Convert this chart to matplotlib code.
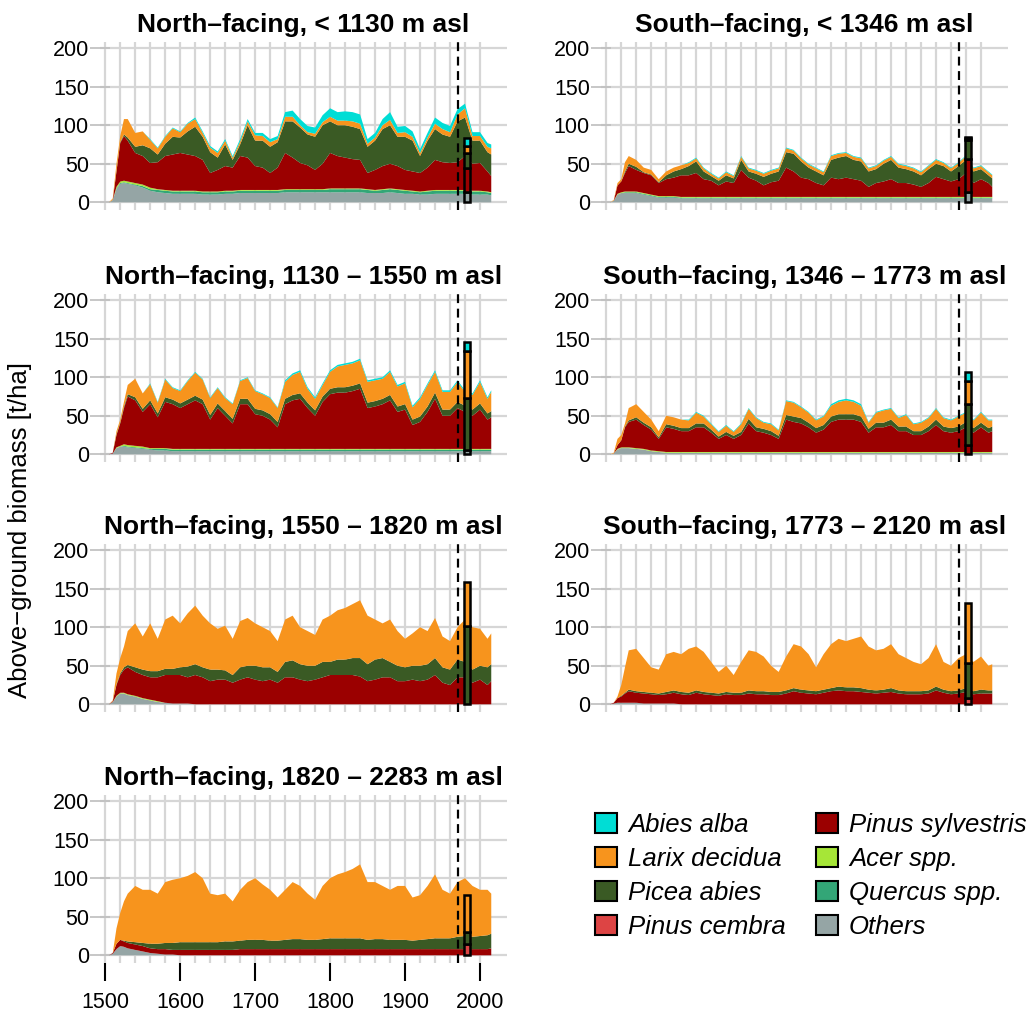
import numpy as np
import matplotlib
matplotlib.use('Agg')
from matplotlib import pyplot as plt
from matplotlib.patches import Patch

plt.rcParams['font.family'] = ['Liberation Sans', 'DejaVu Sans']

YEARS = [1505, 1510, 1515, 1520, 1525, 1530,
         1540, 1550, 1560, 1570, 1580, 1590, 1600, 1610, 1620, 1630,
         1640, 1650, 1660, 1670, 1680, 1690, 1700, 1710, 1720, 1730,
         1740, 1750, 1760, 1770, 1780, 1790, 1800, 1810, 1820, 1830,
         1840, 1850, 1860, 1870, 1880, 1890, 1900, 1910, 1920, 1930,
         1940, 1950, 1960, 1970, 1980, 1990, 2000, 2010,
         2015]

SPECIES = ['Abies alba', 'Larix decidua', 'Picea abies', 'Pinus cembra',
           'Pinus sylvestris', 'Acer spp.', 'Quercus spp.', 'Others']
COLORS = {'Abies alba': '#00DDD5', 'Larix decidua': '#F7941D',
          'Picea abies': '#3A5A24', 'Pinus cembra': '#DD4444',
          'Pinus sylvestris': '#9B0000', 'Acer spp.': '#A6E637',
          'Quercus spp.': '#33A677', 'Others': '#95A5A5'}

SURVEY_YEAR = 1970
OBS_YEAR = 1983

# ---- North-facing, < 1130 m asl
N1_OTHERS = [0, 3, 17, 24, 25, 24,
             22, 19, 15, 13, 12, 11, 11, 11, 11, 10,
             10, 10, 11, 11, 12, 12, 12, 12, 12, 12,
             13, 13, 13, 13, 13, 13, 13, 13, 13, 13,
             13, 12, 12, 12, 13, 12, 11, 11, 10, 10,
             11, 11, 11, 11, 11, 10, 10, 10,
             9]
N1_QUERCUS = [0, 0, 1, 1, 1, 1,
              1, 2, 2, 3, 3, 3, 3, 3, 3, 3,
              3, 3, 3, 3, 3, 3, 3, 3, 3, 3,
              3, 3, 3, 3, 3, 3, 4, 4, 4, 4,
              4, 4, 3, 4, 4, 4, 4, 3, 3, 4,
              4, 4, 4, 4, 4, 4, 4, 3,
              3]
N1_ACER = [0, 0, 2, 2, 2, 2,
           2, 2, 2, 1, 1, 1, 1, 1, 1, 1,
           1, 1, 1, 1, 1, 1, 1, 1, 1, 1,
           1, 1, 1, 1, 1, 1, 1, 1, 1, 1,
           1, 1, 1, 1, 1, 1, 1, 1, 1, 1,
           1, 1, 1, 1, 1, 1, 1, 1,
           1]
N1_SYLV = [0, 0, 20, 50, 58, 53,
           39, 37, 32, 35, 44, 47, 49, 47, 45, 41,
           24, 28, 32, 30, 44, 42, 31, 29, 22, 29,
           47, 41, 34, 31, 25, 33, 46, 42, 40, 38,
           37, 21, 26, 30, 32, 30, 26, 25, 24, 30,
           39, 36, 35, 36, 44, 35, 36, 26,
           21]
N1_PICEA = [0, 0, 1, 1, 2, 4,
            8, 14, 19, 10, 16, 23, 20, 30, 38, 30,
            27, 16, 28, 10, 15, 42, 33, 35, 34, 33,
            41, 47, 46, 40, 43, 50, 41, 40, 42, 42,
            40, 34, 38, 48, 50, 38, 43, 40, 22, 35,
            40, 36, 34, 53, 50, 30, 29, 25,
            28]
N1_LARIX = [0, 2, 9, 8, 20, 24,
            18, 18, 11, 8, 9, 11, 7, 10, 10, 5,
            6, 6, 5, 3, 4, 5, 7, 6, 6, 4,
            6, 6, 3, 3, 4, 4, 6, 6, 6, 7,
            7, 4, 4, 5, 7, 5, 6, 5, 4, 4,
            7, 7, 6, 9, 12, 6, 6, 7,
            8]
N1_ABIES = [0, 0, 0, 0, 0, 0,
            0, 0, 1, 1, 1, 1, 1, 1, 2, 2,
            2, 2, 2, 2, 3, 3, 3, 4, 4, 4,
            6, 8, 8, 8, 8, 9, 11, 11, 12, 12,
            12, 6, 6, 8, 10, 8, 8, 7, 5, 6,
            8, 8, 8, 7, 6, 5, 5, 5,
            5]
N1_OBS = {'Others': 13, 'Pinus sylvestris': 31, 'Picea abies': 20,
          'Larix decidua': 9, 'Abies alba': 10}

# ---- South-facing, < 1346 m asl
S1_OTHERS = [0, 2, 10, 12, 12, 12,
             12, 10, 8, 6, 6, 6, 5, 5, 5, 5,
             5, 5, 5, 5, 5, 5, 5, 5, 5, 5,
             5, 5, 5, 5, 5, 5, 5, 5, 5, 5,
             5, 5, 5, 5, 5, 5, 5, 5, 5, 5,
             5, 5, 5, 5, 5, 5, 5, 5,
             5]
S1_QUERCUS = [0, 0, 0, 0, 1, 1,
              1, 1, 1, 1, 1, 1, 1, 1, 1, 1,
              1, 1, 1, 1, 1, 1, 1, 1, 1, 1,
              1, 1, 1, 1, 1, 1, 1, 1, 1, 1,
              1, 1, 1, 1, 1, 1, 1, 1, 1, 1,
              1, 1, 1, 1, 1, 1, 1, 1,
              1]
S1_ACER = [0, 0, 1, 1, 1, 1,
           1, 1, 1, 1, 1, 1, 1, 1, 1, 1,
           1, 1, 1, 1, 1, 1, 1, 1, 1, 1,
           1, 1, 1, 1, 1, 1, 1, 1, 1, 1,
           1, 1, 1, 1, 1, 1, 1, 1, 1, 1,
           1, 1, 1, 1, 1, 1, 1, 1,
           1]
S1_SYLV = [0, 0, 11, 14, 24, 33,
           28, 26, 25, 17, 22, 24, 28, 28, 31, 23,
           21, 15, 20, 18, 35, 25, 21, 15, 19, 21,
           38, 33, 25, 23, 18, 15, 25, 23, 25, 23,
           21, 13, 18, 20, 23, 18, 18, 16, 13, 18,
           26, 23, 20, 23, 31, 18, 23, 18,
           13]
S1_PICEA = [0, 0, 0, 0, 2, 3,
            4, 1, 1, 1, 5, 8, 8, 12, 15, 10,
            6, 6, 8, 6, 13, 8, 9, 11, 11, 12,
            20, 23, 21, 15, 15, 13, 23, 28, 28, 25,
            25, 20, 18, 23, 25, 20, 18, 17, 15, 18,
            17, 17, 13, 17, 17, 15, 13, 10,
            11]
S1_LARIX = [0, 1, 3, 3, 12, 10,
            9, 6, 6, 4, 5, 5, 5, 4, 4, 4,
            3, 3, 4, 3, 4, 4, 4, 4, 4, 4,
            5, 4, 4, 4, 4, 4, 5, 5, 4, 4,
            4, 4, 4, 4, 4, 4, 4, 4, 4, 4,
            5, 4, 4, 4, 5, 4, 4, 4,
            4]
S1_ABIES = [0, 0, 0, 0, 0, 0,
            0, 0, 0, 0, 0, 0, 0, 1, 1, 1,
            1, 1, 1, 1, 1, 1, 1, 1, 1, 1,
            1, 1, 1, 1, 1, 1, 1, 1, 1, 1,
            1, 1, 1, 1, 1, 1, 1, 1, 1, 1,
            1, 1, 1, 1, 1, 1, 1, 1,
            1]
S1_OBS = {'Others': 14, 'Pinus sylvestris': 42, 'Picea abies': 25,
          'Larix decidua': 3, 'Abies alba': 1}

# ---- North-facing, 1130 - 1550 m asl
N2_OTHERS = [0, 1, 8, 10, 10, 9,
             8, 7, 6, 5, 5, 4, 4, 4, 4, 4,
             4, 4, 4, 4, 4, 4, 4, 4, 4, 4,
             4, 4, 4, 4, 4, 4, 4, 4, 4, 4,
             4, 4, 4, 4, 4, 4, 4, 4, 4, 4,
             4, 4, 4, 4, 4, 4, 4, 4,
             4]
N2_QUERCUS = [0, 0, 0, 0, 1, 1,
              1, 1, 1, 2, 2, 2, 2, 2, 2, 2,
              2, 2, 2, 2, 2, 2, 2, 2, 2, 2,
              2, 2, 2, 2, 2, 2, 2, 2, 2, 2,
              2, 2, 2, 2, 2, 2, 2, 2, 2, 2,
              2, 2, 2, 2, 2, 2, 2, 2,
              2]
N2_ACER = [0, 0, 1, 1, 2, 2,
           2, 2, 1, 1, 1, 1, 1, 1, 1, 1,
           1, 1, 1, 1, 1, 1, 1, 1, 1, 1,
           1, 1, 1, 1, 1, 1, 1, 1, 1, 1,
           1, 1, 1, 1, 1, 1, 1, 1, 1, 1,
           1, 1, 1, 1, 1, 1, 1, 1,
           1]
N2_SYLV = [0, 1, 16, 29, 47, 63,
           59, 45, 57, 40, 60, 58, 53, 58, 63, 58,
           38, 53, 43, 33, 58, 58, 45, 43, 38, 28,
           58, 63, 65, 53, 43, 61, 71, 73, 73, 75,
           78, 53, 55, 58, 63, 48, 51, 31, 35, 48,
           65, 43, 43, 53, 48, 43, 51, 38,
           41]
N2_PICEA = [0, 0, 1, 1, 2, 3,
            4, 4, 5, 5, 6, 6, 6, 6, 6, 6,
            6, 6, 6, 6, 7, 7, 7, 7, 7, 7,
            7, 7, 7, 7, 7, 7, 7, 7, 7, 7,
            7, 7, 7, 7, 7, 7, 7, 7, 7, 7,
            8, 8, 8, 8, 8, 8, 8, 8,
            8]
N2_LARIX = [0, 0, 4, 4, 6, 12,
            24, 20, 21, 14, 23, 15, 16, 24, 30, 26,
            22, 20, 17, 19, 23, 27, 23, 21, 21, 18,
            22, 26, 28, 18, 15, 15, 22, 27, 29, 29,
            30, 27, 27, 26, 30, 26, 27, 16, 23, 28,
            27, 23, 23, 26, 18, 19, 28, 19,
            25]
N2_ABIES = [0, 0, 0, 0, 0, 0,
            0, 0, 1, 1, 1, 1, 1, 1, 1, 1,
            1, 1, 1, 1, 1, 1, 1, 1, 1, 1,
            2, 2, 2, 2, 2, 2, 2, 2, 2, 2,
            2, 2, 2, 2, 2, 2, 2, 2, 2, 2,
            2, 2, 2, 2, 2, 2, 2, 2,
            2]
N2_OBS = {'Others': 5, 'Picea abies': 68, 'Larix decidua': 61,
          'Abies alba': 12}

# ---- South-facing, 1346 - 1773 m asl
S2_OTHERS = [0, 1, 6, 8, 8, 8,
             7, 6, 4, 3, 2, 2, 2, 2, 2, 2,
             2, 2, 2, 2, 2, 2, 2, 2, 2, 2,
             2, 2, 2, 2, 2, 2, 2, 2, 2, 2,
             2, 2, 2, 2, 2, 2, 2, 2, 2, 2,
             2, 2, 2, 2, 2, 2, 2, 2,
             2]
S2_ACER = [0, 0, 1, 1, 1, 1,
           1, 1, 1, 1, 1, 1, 1, 1, 1, 1,
           1, 1, 1, 1, 1, 1, 1, 1, 1, 1,
           1, 1, 1, 1, 1, 1, 1, 1, 1, 1,
           1, 1, 1, 1, 1, 1, 1, 1, 1, 1,
           1, 1, 1, 1, 1, 1, 1, 1,
           1]
S2_SYLV = [0, 0, 5, 9, 26, 33,
           37, 31, 27, 16, 32, 30, 27, 27, 32, 32,
           25, 17, 22, 17, 22, 37, 27, 25, 22, 17,
           42, 39, 37, 32, 25, 29, 39, 42, 42, 42,
           39, 25, 32, 32, 35, 27, 27, 22, 22, 27,
           35, 27, 25, 27, 32, 25, 32, 25,
           27]
S2_PICEA = [0, 0, 0, 0, 1, 2,
            3, 3, 3, 2, 4, 4, 4, 4, 5, 5,
            4, 3, 4, 4, 4, 6, 5, 5, 5, 4,
            6, 7, 7, 6, 6, 6, 7, 7, 7, 7,
            7, 5, 6, 6, 7, 6, 6, 5, 5, 6,
            7, 6, 6, 6, 7, 6, 6, 6,
            6]
S2_LARIX = [0, 1, 8, 7, 4, 16,
            17, 14, 10, 8, 11, 11, 11, 10, 14, 9,
            7, 6, 8, 5, 10, 13, 12, 8, 9, 7,
            18, 18, 14, 13, 10, 11, 14, 16, 18, 16,
            14, 8, 13, 16, 14, 11, 15, 9, 11, 11,
            14, 11, 10, 13, 12, 10, 13, 10,
            8]
S2_ABIES = [0, 0, 0, 0, 0, 0,
            0, 0, 0, 0, 0, 0, 0, 1, 1, 1,
            1, 1, 1, 1, 1, 1, 1, 1, 1, 1,
            1, 1, 1, 1, 1, 1, 2, 2, 2, 2,
            2, 1, 1, 1, 1, 1, 1, 1, 1, 1,
            1, 1, 1, 1, 1, 1, 1, 1,
            1]
S2_OBS = {'Pinus sylvestris': 12, 'Picea abies': 53, 'Larix decidua': 30,
          'Abies alba': 12}

# ---- North-facing, 1550 - 1820 m asl
N3_OTHERS = [0, 3, 10, 14, 14, 12,
             10, 7, 5, 3, 2, 1, 1, 1, 0, 0,
             0, 0, 0, 0, 0, 0, 0, 0, 0, 0,
             0, 0, 0, 0, 0, 0, 0, 0, 0, 0,
             0, 0, 0, 0, 0, 0, 0, 0, 0, 0,
             0, 0, 0, 0, 0, 0, 0, 0,
             0]
N3_ACER = [0, 0, 1, 1, 1, 1,
           1, 1, 1, 1, 0, 0, 0, 0, 0, 0,
           0, 0, 0, 0, 0, 0, 0, 0, 0, 0,
           0, 0, 0, 0, 0, 0, 0, 0, 0, 0,
           0, 0, 0, 0, 0, 0, 0, 0, 0, 0,
           0, 0, 0, 0, 0, 0, 0, 0,
           0]
N3_SYLV = [0, 1, 14, 23, 30, 35,
           31, 30, 29, 31, 36, 37, 37, 34, 38, 35,
           30, 32, 32, 28, 32, 35, 32, 30, 32, 28,
           35, 35, 32, 30, 32, 35, 38, 38, 38, 38,
           36, 30, 32, 35, 35, 30, 30, 32, 30, 32,
           38, 28, 25, 35, 35, 28, 32, 25,
           30]
N3_PICEA = [0, 0, 1, 2, 3, 3,
            6, 7, 8, 8, 8, 8, 10, 14, 14, 13,
            15, 13, 12, 10, 16, 15, 18, 18, 16, 14,
            20, 22, 20, 20, 18, 20, 17, 20, 20, 22,
            24, 22, 26, 25, 20, 20, 18, 18, 20, 20,
            22, 20, 20, 23, 20, 17, 18, 23,
            22]
N3_LARIX = [0, 1, 14, 20, 27, 44,
            57, 43, 62, 42, 64, 69, 57, 69, 76, 67,
            60, 53, 58, 47, 60, 62, 55, 52, 47, 40,
            55, 58, 48, 45, 40, 55, 60, 64, 67, 70,
            75, 63, 52, 45, 55, 45, 37, 42, 50, 43,
            52, 40, 37, 42, 55, 55, 48, 37,
            40]
N3_OBS = {'Picea abies': 102, 'Larix decidua': 57}

# ---- South-facing, 1773 - 2120 m asl
S3_OTHERS = [0, 1, 2, 2, 2, 2,
             2, 1, 1, 1, 1, 1, 0, 0, 0, 0,
             0, 0, 0, 0, 0, 0, 0, 0, 0, 0,
             0, 0, 0, 0, 0, 0, 0, 0, 0, 0,
             0, 0, 0, 0, 0, 0, 0, 0, 0, 0,
             0, 0, 0, 0, 0, 0, 0, 0,
             0]
S3_SYLV = [0, 1, 6, 8, 12, 15,
           13, 13, 12, 11, 12, 14, 13, 12, 15, 13,
           12, 11, 13, 12, 12, 14, 13, 13, 12, 12,
           14, 17, 15, 14, 13, 15, 17, 18, 17, 17,
           16, 15, 14, 15, 16, 14, 13, 13, 13, 14,
           18, 15, 13, 14, 16, 13, 14, 14,
           14]
S3_PICEA = [0, 0, 0, 1, 1, 2,
            2, 2, 2, 2, 3, 3, 3, 3, 3, 3,
            3, 3, 3, 3, 3, 4, 4, 4, 4, 4,
            4, 4, 4, 4, 4, 4, 4, 5, 5, 5,
            5, 4, 4, 4, 5, 4, 4, 4, 4, 4,
            5, 4, 4, 4, 5, 4, 5, 4,
            4]
S3_LARIX = [0, 0, 2, 14, 33, 51,
            55, 44, 33, 31, 49, 50, 49, 57, 57, 52,
            40, 28, 34, 23, 40, 52, 51, 45, 34, 26,
            44, 57, 56, 47, 31, 46, 57, 62, 60, 63,
            67, 56, 52, 53, 57, 47, 43, 38, 35, 42,
            55, 36, 33, 42, 44, 38, 43, 32,
            34]
S3_OBS = {'Pinus cembra': 8, 'Picea abies': 46, 'Larix decidua': 78}

# ---- North-facing, 1820 - 2283 m asl
N4_OTHERS = [0, 2, 8, 12, 11, 9,
             7, 5, 3, 2, 1, 1, 0, 0, 0, 0,
             0, 0, 0, 0, 0, 0, 0, 0, 0, 0,
             0, 0, 0, 0, 0, 0, 0, 0, 0, 0,
             0, 0, 0, 0, 0, 0, 0, 0, 0, 0,
             0, 0, 0, 0, 0, 0, 0, 0,
             0]
N4_SYLV = [0, 1, 7, 8, 7, 7,
           7, 7, 6, 6, 7, 6, 7, 7, 7, 7,
           7, 7, 7, 7, 8, 8, 8, 8, 8, 8,
           8, 8, 8, 8, 8, 8, 8, 8, 8, 8,
           8, 8, 8, 8, 8, 8, 8, 8, 8, 8,
           8, 8, 8, 8, 8, 8, 8, 8,
           9]
N4_PICEA = [0, 0, 0, 0, 1, 2,
            3, 4, 6, 7, 8, 9, 10, 10, 10, 10,
            10, 10, 11, 11, 11, 12, 12, 12, 11, 11,
            12, 13, 13, 12, 12, 13, 14, 14, 14, 14,
            14, 12, 13, 13, 12, 12, 12, 11, 12, 13,
            14, 14, 14, 16, 17, 16, 17, 18,
            19]
N4_LARIX = [0, 0, 20, 35, 51, 62,
            73, 69, 70, 65, 79, 82, 83, 86, 91, 83,
            63, 61, 62, 52, 66, 75, 80, 72, 66, 56,
            65, 74, 69, 60, 52, 69, 78, 83, 86, 90,
            96, 75, 74, 69, 65, 70, 70, 56, 58, 69,
            83, 63, 58, 71, 75, 66, 60, 59,
            52]
N4_OBS = {'Pinus cembra': 15, 'Picea abies': 15, 'Larix decidua': 48}

PANELS = [
    ('North\u2013facing, < 1130 m asl', 0, 0,
     {'Others': N1_OTHERS, 'Quercus spp.': N1_QUERCUS, 'Acer spp.': N1_ACER,
      'Pinus sylvestris': N1_SYLV, 'Picea abies': N1_PICEA,
      'Larix decidua': N1_LARIX, 'Abies alba': N1_ABIES}, N1_OBS),
    ('South\u2013facing, < 1346 m asl', 0, 1,
     {'Others': S1_OTHERS, 'Quercus spp.': S1_QUERCUS, 'Acer spp.': S1_ACER,
      'Pinus sylvestris': S1_SYLV, 'Picea abies': S1_PICEA,
      'Larix decidua': S1_LARIX, 'Abies alba': S1_ABIES}, S1_OBS),
    ('North\u2013facing, 1130 \u2013 1550 m asl', 1, 0,
     {'Others': N2_OTHERS, 'Quercus spp.': N2_QUERCUS, 'Acer spp.': N2_ACER,
      'Pinus sylvestris': N2_SYLV, 'Picea abies': N2_PICEA,
      'Larix decidua': N2_LARIX, 'Abies alba': N2_ABIES}, N2_OBS),
    ('South\u2013facing, 1346 \u2013 1773 m asl', 1, 1,
     {'Others': S2_OTHERS, 'Acer spp.': S2_ACER,
      'Pinus sylvestris': S2_SYLV, 'Picea abies': S2_PICEA,
      'Larix decidua': S2_LARIX, 'Abies alba': S2_ABIES}, S2_OBS),
    ('North\u2013facing, 1550 \u2013 1820 m asl', 2, 0,
     {'Others': N3_OTHERS, 'Acer spp.': N3_ACER,
      'Pinus sylvestris': N3_SYLV, 'Picea abies': N3_PICEA,
      'Larix decidua': N3_LARIX}, N3_OBS),
    ('South\u2013facing, 1773 \u2013 2120 m asl', 2, 1,
     {'Others': S3_OTHERS, 'Pinus sylvestris': S3_SYLV,
      'Picea abies': S3_PICEA, 'Larix decidua': S3_LARIX}, S3_OBS),
    ('North\u2013facing, 1820 \u2013 2283 m asl', 3, 0,
     {'Others': N4_OTHERS, 'Pinus sylvestris': N4_SYLV,
      'Picea abies': N4_PICEA, 'Larix decidua': N4_LARIX}, N4_OBS),
]

STACK = SPECIES[::-1]   # bottom to top

W, H = 1036, 1019
COL_X = [100, 601]
ROW_BOTTOM = [210, 462, 712, 963]
AX_W, AX_H = 407, 168


def draw_panel(ax, title, layers, obs, bottom_row):
    names = [sp for sp in STACK if sp in layers]
    ax.stackplot(YEARS, [layers[sp] for sp in names],
                 colors=[COLORS[sp] for sp in names], linewidth=0, zorder=2)
    base = 0
    for sp in STACK:
        v = obs.get(sp, 0)
        if v > 0:
            ax.bar(OBS_YEAR, v, bottom=base, width=8, color=COLORS[sp],
                   edgecolor='black', linewidth=1.8, zorder=4)
            base += v
    ax.axvline(SURVEY_YEAR, color='black', lw=1.6, ls=(0, (4, 2.5)), zorder=3)

    ax.set_xlim(1493, 2036)
    ax.set_ylim(-10, 208)
    for s in ax.spines.values():
        s.set_visible(False)
    ax.set_xticks(np.arange(1500, 2001, 20), minor=True)
    ax.set_xticks(np.arange(1500, 2001, 100))
    ax.set_yticks([0, 50, 100, 150, 200])
    ax.grid(True, which='both', color='#D6D6D6', lw=1.6, zorder=0)
    ax.set_axisbelow(True)
    ax.tick_params(axis='x', which='minor', length=0)
    ax.tick_params(axis='y', direction='inout', length=14, width=1.2,
                   color='#BEBEBE', pad=1, labelsize=15.5)
    if bottom_row:
        ax.tick_params(axis='x', which='major', direction='out', length=13,
                       width=1.5, color='black', pad=8, labelsize=15.5)
    else:
        ax.tick_params(axis='x', which='major', length=0, labelbottom=False)
    ax.set_title(title, fontsize=19, fontweight='bold', pad=7)


fig = plt.figure(figsize=(W / 100, H / 100), dpi=100)
for title, row, col, layers, obs in PANELS:
    ax = fig.add_axes([COL_X[col] / W, 1 - ROW_BOTTOM[row] / H,
                       AX_W / W, AX_H / H])
    draw_panel(ax, title, layers, obs, row == 3)

fig.text(0.019, 0.48, 'Above\u2212ground biomass [t/ha]', rotation=90,
         va='center', ha='center', fontsize=18.5)

handles = [Patch(facecolor=COLORS[sp], edgecolor='black', lw=1.5, label=sp)
           for sp in SPECIES]
fig.legend(handles=handles, ncol=2, loc='upper left',
           bbox_to_anchor=(595 / W, 1 - 813 / H), frameon=False,
           prop={'style': 'italic', 'size': 18.5}, handlelength=0.85,
           handleheight=0.85, handletextpad=0.45, columnspacing=1.15,
           labelspacing=0.38, borderaxespad=0, borderpad=0)

fig.savefig('out.png', dpi=100)
